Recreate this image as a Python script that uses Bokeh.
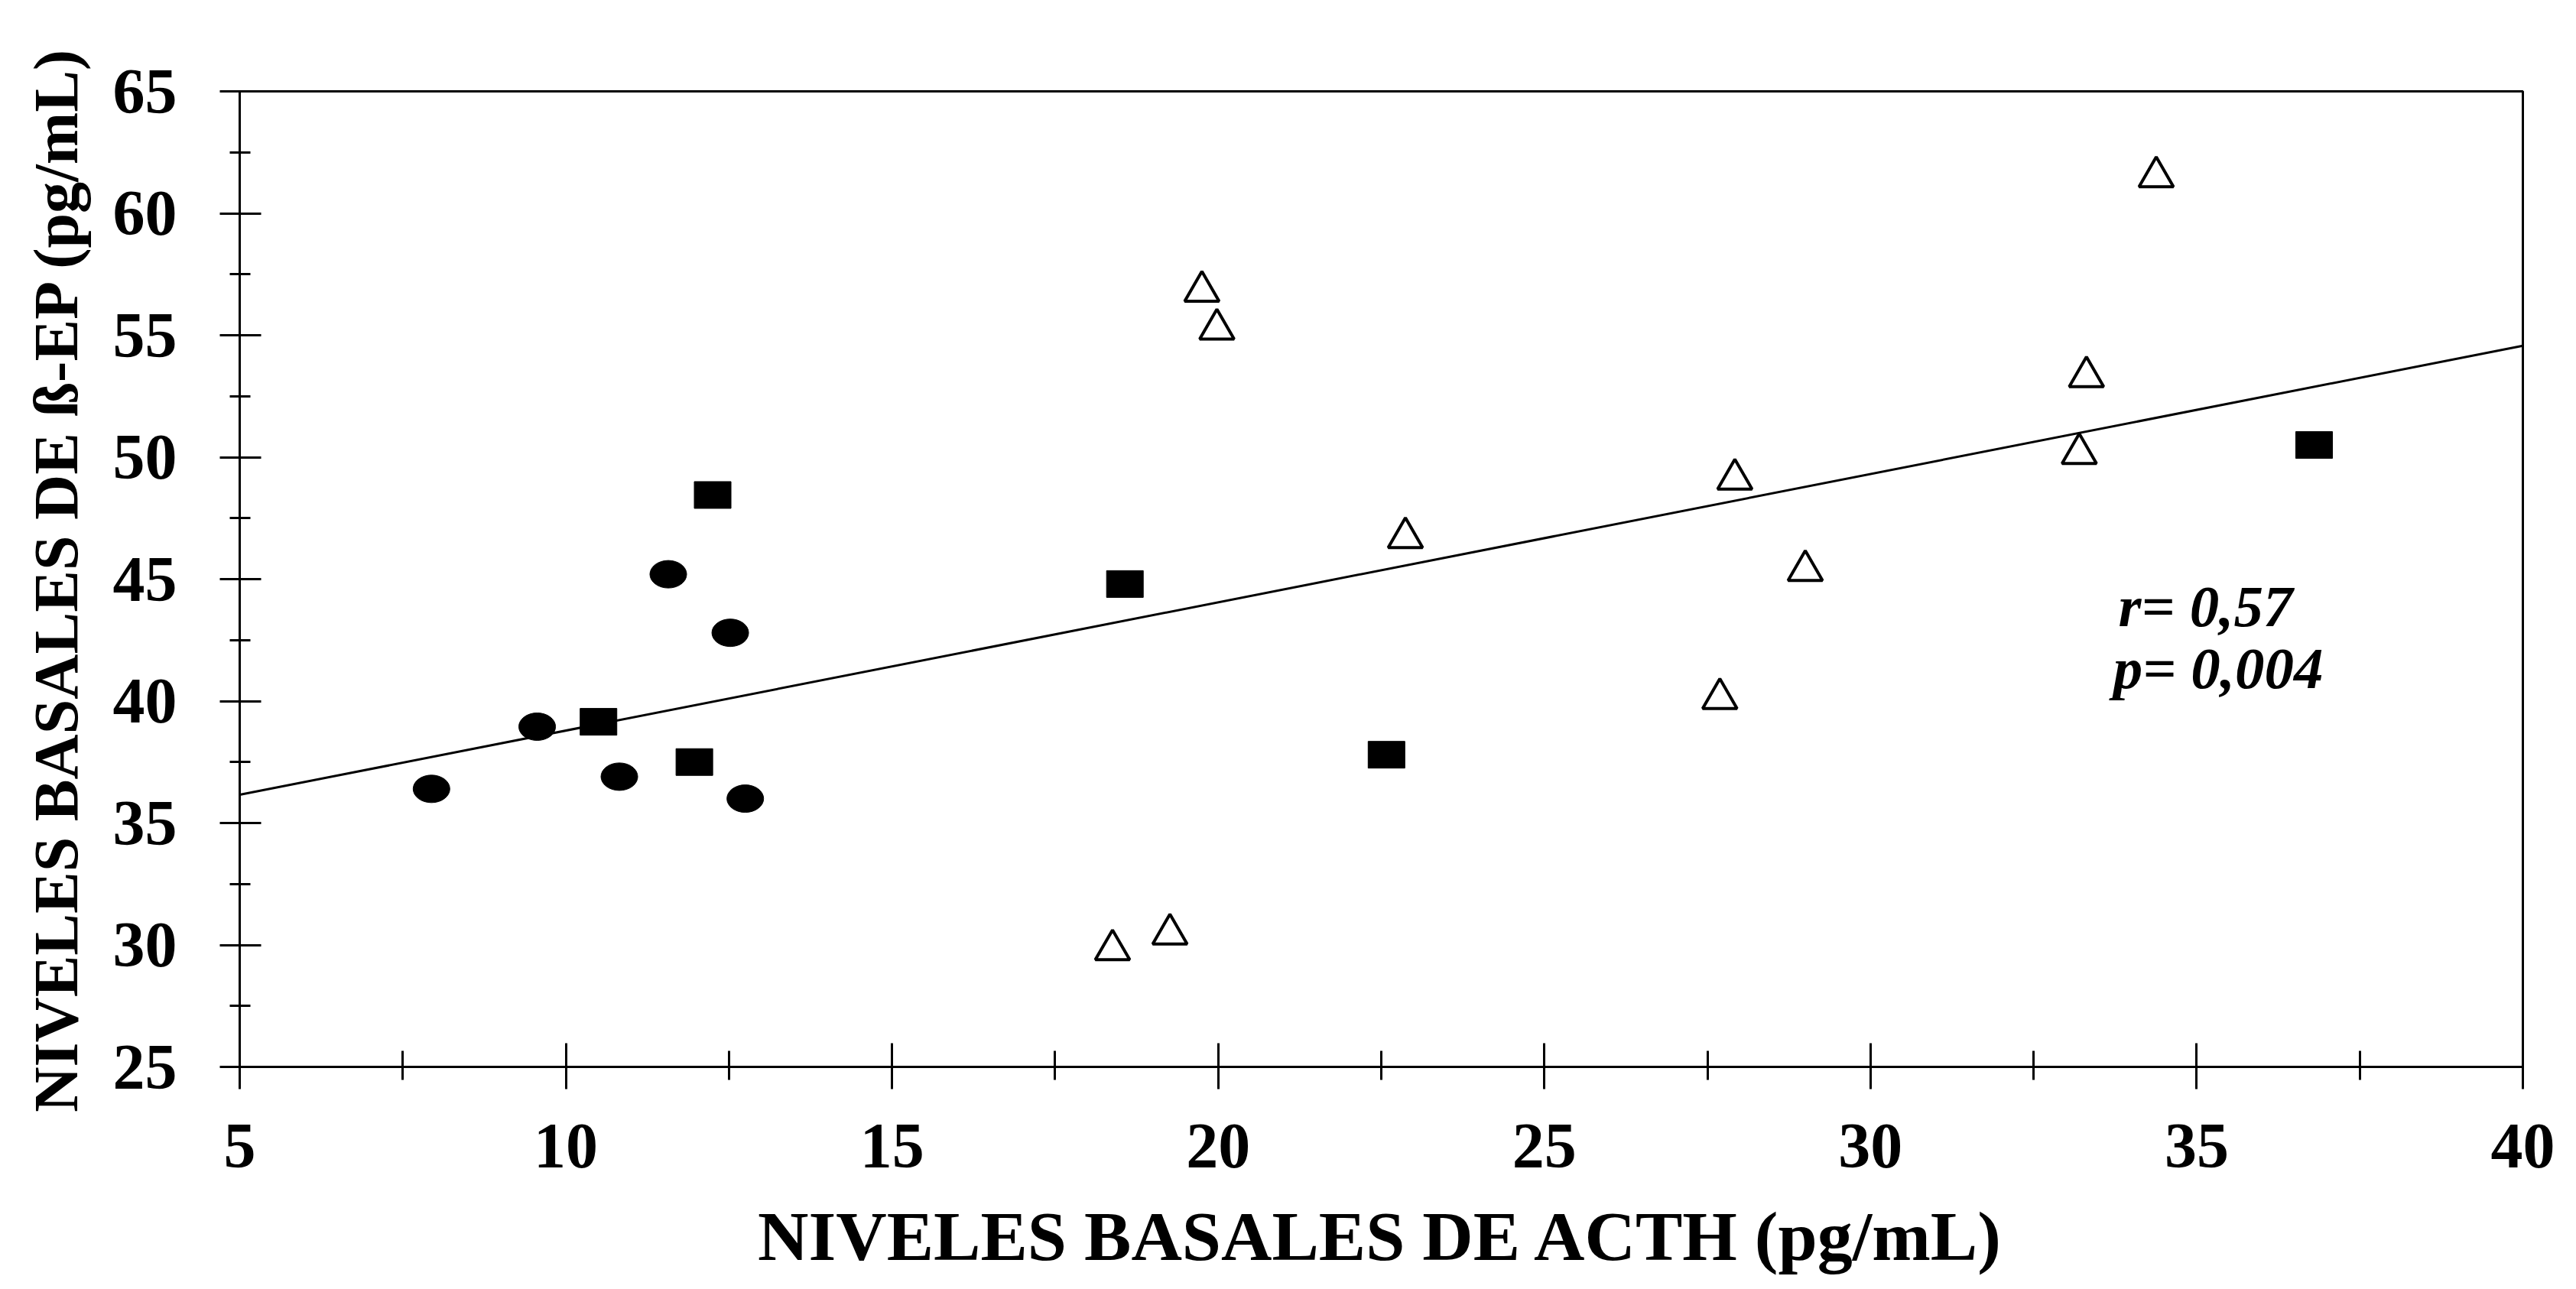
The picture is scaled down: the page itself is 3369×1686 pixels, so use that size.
from bokeh.plotting import figure
from bokeh.models import Range1d, SingleIntervalTicker, Label
from bokeh.embed import file_html
from bokeh.resources import INLINE

# ---- data ----
circle_acth = [7.94, 9.56, 10.82, 11.57, 12.52, 12.75]
circle_bep = [36.4, 38.95, 36.9, 45.2, 42.8, 36.0]

square_acth = [10.5, 11.97, 12.25, 18.57, 22.58, 36.8]
square_bep = [39.15, 37.5, 48.45, 44.8, 37.8, 50.5]

triangle_acth = [18.38, 19.26, 19.75, 19.98, 22.87, 27.69, 27.92, 29.0, 33.2, 33.31, 34.38]
triangle_bep = [29.8, 30.45, 56.8, 55.25, 46.7, 40.1, 49.1, 45.35, 50.15, 53.3, 61.5]

fit_intercept = 33.53
fit_slope = 0.526
x_min, x_max = 5, 40
y_min, y_max = 25, 65

stats_lines = ["r= 0,57", "p= 0,004"]
stats_x = [33.8, 33.72]
stats_y = [43.9, 41.35]

x_title = "NIVELES BASALES DE ACTH (pg/mL)"
y_title = "NIVELES BASALES DE ß-EP (pg/mL)"

FONT = "Liberation Serif"

p = figure(width=3353, height=1670, output_backend="svg", toolbar_location=None,
           x_range=Range1d(x_min, x_max), y_range=Range1d(y_min, y_max),
           min_border_left=313, min_border_right=54, min_border_top=119, min_border_bottom=273)
p.xgrid.visible = False
p.ygrid.visible = False
p.background_fill_color = "white"
p.border_fill_color = "white"
p.outline_line_color = "black"
p.outline_line_width = 3

p.xaxis.ticker = SingleIntervalTicker(interval=5, num_minor_ticks=2)
p.yaxis.ticker = SingleIntervalTicker(interval=5, num_minor_ticks=2)

for ax in (p.xaxis[0], p.yaxis[0]):
    ax.axis_line_color = "black"
    ax.axis_line_width = 3
    ax.major_tick_line_color = "black"
    ax.major_tick_line_width = 3
    ax.minor_tick_line_color = "black"
    ax.minor_tick_line_width = 3
    ax.major_label_text_font = FONT
    ax.major_label_text_font_style = "bold"
    ax.major_label_text_font_size = "84px"
    ax.major_label_text_color = "black"
    ax.axis_label_text_font = FONT
    ax.axis_label_text_font_style = "bold"
    ax.axis_label_text_color = "black"

p.xaxis.major_tick_in = 31
p.xaxis.major_tick_out = 29
p.xaxis.minor_tick_in = 21
p.xaxis.minor_tick_out = 17
p.xaxis.major_label_standoff = 46
p.xaxis.axis_label = x_title
p.xaxis.axis_label_text_font_size = "92px"
p.xaxis.axis_label_standoff = 36

p.yaxis.major_tick_in = 28
p.yaxis.major_tick_out = 26
p.yaxis.minor_tick_in = 14
p.yaxis.minor_tick_out = 13
p.yaxis.major_label_standoff = 56
p.yaxis.axis_label = y_title
p.yaxis.axis_label_text_font_size = "82px"
p.yaxis.axis_label_standoff = 26

# regression line
line_x = [x_min, x_max]
line_y = [fit_intercept + fit_slope * v for v in line_x]
p.line(line_x, line_y, line_color="black", line_width=3)

# markers
p.ellipse(x=circle_acth, y=circle_bep, width=48, height=36,
          width_units="screen", height_units="screen",
          fill_color="black", line_color="black")
p.rect(x=square_acth, y=square_bep, width=48, height=35,
       width_units="screen", height_units="screen",
       fill_color="black", line_color="black")
p.scatter(x=triangle_acth, y=triangle_bep, marker="triangle", size=45,
          fill_color="white", line_color="black", line_width=4)

for txt, tx, ty in zip(stats_lines, stats_x, stats_y):
    p.add_layout(Label(x=tx, y=ty, text=txt, text_font=FONT, text_font_style="bold italic",
                       text_font_size="77px", text_color="black", text_baseline="alphabetic"))

open("out.html", "w").write(file_html(p, INLINE))
